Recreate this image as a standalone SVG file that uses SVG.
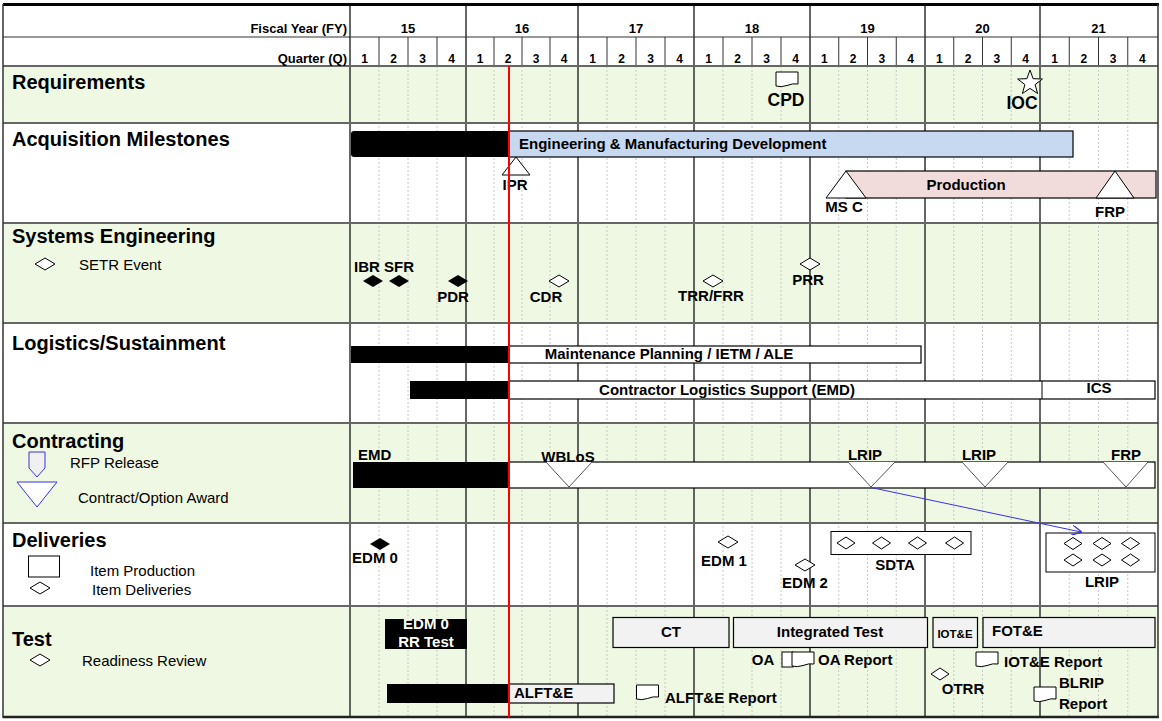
<svg xmlns="http://www.w3.org/2000/svg" xmlns:xlink="http://www.w3.org/1999/xlink" width="1162" height="721" viewBox="0 0 1162 721">
<defs>
<style>
text{font-family:"Liberation Sans",Arial,sans-serif;fill:#000}
.hd{font-size:13px;font-weight:bold}
.qn{font-size:12px;font-weight:bold;text-anchor:middle}
.sec{font-size:20px;font-weight:bold}
.leg{font-size:15px}
.ms{font-size:15px;font-weight:bold}
.big{font-size:17.5px;font-weight:bold}
.bar{font-size:15px;font-weight:bold}
.c{text-anchor:middle}
.wt{fill:#fff}
.green{fill:#EFF8E2}
.yl{stroke:#333;stroke-width:1.5}
.ql{stroke:#C8C8C8;stroke-width:1;stroke-dasharray:2 2}
.qh{stroke:#333;stroke-width:1}
.rowl{stroke:#666;stroke-width:2}
.open{fill:#fff;stroke:#000;stroke-width:1}
.fill{fill:#000}
.box{stroke:#000;stroke-width:1.2}
.tri{fill:#fff;stroke:#555;stroke-width:1}
</style>
<polygon id="dia" points="0,-6 10,0 0,6 -10,0"/>
<polygon id="dias" points="0,-6 9,0 0,6 -9,0"/>
<path id="doc" d="M0,0 H22 V12 Q17,11 11,13.5 Q5,15.5 0,14 Z"/>
<marker id="arr" viewBox="0 0 10 10" refX="9" refY="5" markerWidth="10" markerHeight="10" orient="auto" markerUnits="userSpaceOnUse"><path d="M0,0 L10,5 L0,10" fill="none" stroke="#3333EE" stroke-width="1.3"/></marker>
</defs>

<!-- backgrounds -->
<rect x="0" y="0" width="1162" height="721" fill="#fff"/>
<rect class="green" x="3" y="66" width="1155" height="57"/>
<rect class="green" x="3" y="223" width="1155" height="100"/>
<rect class="green" x="3" y="423" width="1155" height="100"/>
<rect class="green" x="3" y="606" width="1155" height="111"/>

<!-- grid -->
<g id="grid">
<g class="ql">
<line x1="379" y1="66" x2="379" y2="717"/><line x1="408" y1="66" x2="408" y2="717"/><line x1="437" y1="66" x2="437" y2="717"/>
<line x1="494" y1="66" x2="494" y2="717"/><line x1="522" y1="66" x2="522" y2="717"/><line x1="550" y1="66" x2="550" y2="717"/>
<line x1="607" y1="66" x2="607" y2="717"/><line x1="636" y1="66" x2="636" y2="717"/><line x1="665" y1="66" x2="665" y2="717"/>
<line x1="723" y1="66" x2="723" y2="717"/><line x1="752" y1="66" x2="752" y2="717"/><line x1="781" y1="66" x2="781" y2="717"/>
<line x1="838.75" y1="66" x2="838.75" y2="717"/><line x1="867.5" y1="66" x2="867.5" y2="717"/><line x1="896.25" y1="66" x2="896.25" y2="717"/>
<line x1="953.75" y1="66" x2="953.75" y2="717"/><line x1="982.5" y1="66" x2="982.5" y2="717"/><line x1="1011.25" y1="66" x2="1011.25" y2="717"/>
<line x1="1069.25" y1="66" x2="1069.25" y2="717"/><line x1="1098.5" y1="66" x2="1098.5" y2="717"/><line x1="1127.75" y1="66" x2="1127.75" y2="717"/>
</g>
<g class="qh">
<line x1="379" y1="37" x2="379" y2="66"/><line x1="408" y1="37" x2="408" y2="66"/><line x1="437" y1="37" x2="437" y2="66"/>
<line x1="494" y1="37" x2="494" y2="66"/><line x1="522" y1="37" x2="522" y2="66"/><line x1="550" y1="37" x2="550" y2="66"/>
<line x1="607" y1="37" x2="607" y2="66"/><line x1="636" y1="37" x2="636" y2="66"/><line x1="665" y1="37" x2="665" y2="66"/>
<line x1="723" y1="37" x2="723" y2="66"/><line x1="752" y1="37" x2="752" y2="66"/><line x1="781" y1="37" x2="781" y2="66"/>
<line x1="838.75" y1="37" x2="838.75" y2="66"/><line x1="867.5" y1="37" x2="867.5" y2="66"/><line x1="896.25" y1="37" x2="896.25" y2="66"/>
<line x1="953.75" y1="37" x2="953.75" y2="66"/><line x1="982.5" y1="37" x2="982.5" y2="66"/><line x1="1011.25" y1="37" x2="1011.25" y2="66"/>
<line x1="1069.25" y1="37" x2="1069.25" y2="66"/><line x1="1098.5" y1="37" x2="1098.5" y2="66"/><line x1="1127.75" y1="37" x2="1127.75" y2="66"/>
</g>
<g class="yl">
<line x1="350" y1="5" x2="350" y2="717"/><line x1="466" y1="5" x2="466" y2="717"/><line x1="578" y1="5" x2="578" y2="717"/>
<line x1="694" y1="5" x2="694" y2="717"/><line x1="810" y1="5" x2="810" y2="717"/><line x1="925" y1="5" x2="925" y2="717"/>
<line x1="1040" y1="5" x2="1040" y2="717"/>
</g>
<line x1="3" y1="37" x2="1158" y2="37" stroke="#333" stroke-width="1.2"/>
<g class="rowl">
<line x1="3" y1="66" x2="1158" y2="66"/><line x1="3" y1="123" x2="1158" y2="123"/><line x1="3" y1="223" x2="1158" y2="223"/>
<line x1="3" y1="323" x2="1158" y2="323"/><line x1="3" y1="423" x2="1158" y2="423"/><line x1="3" y1="523" x2="1158" y2="523"/>
<line x1="3" y1="606" x2="1158" y2="606"/>
</g>
<line x1="3" y1="4.5" x2="1159" y2="4.5" stroke="#000" stroke-width="3"/>
<line x1="3" y1="717" x2="1159" y2="717" stroke="#222" stroke-width="2.5"/>
<line x1="3" y1="4" x2="3" y2="718" stroke="#333" stroke-width="1.5"/>
<line x1="1158" y1="4" x2="1158" y2="718" stroke="#333" stroke-width="1.5"/>
</g>

<!-- header -->
<g id="header">
<text class="hd" x="347" y="33" text-anchor="end">Fiscal Year (FY)</text>
<text class="hd" x="347" y="63" text-anchor="end">Quarter (Q)</text>
<g class="hd c">
<text x="408" y="33">15</text><text x="522" y="33">16</text><text x="636" y="33">17</text><text x="752" y="33">18</text>
<text x="867.5" y="33">19</text><text x="982.5" y="33">20</text><text x="1098.5" y="33">21</text>
</g>
<g class="qn">
<text x="364.5" y="63">1</text><text x="393.5" y="63">2</text><text x="422.5" y="63">3</text><text x="451.5" y="63">4</text>
<text x="480" y="63">1</text><text x="508" y="63">2</text><text x="536" y="63">3</text><text x="564" y="63">4</text>
<text x="592.5" y="63">1</text><text x="621.5" y="63">2</text><text x="650.5" y="63">3</text><text x="679.5" y="63">4</text>
<text x="708.5" y="63">1</text><text x="737.5" y="63">2</text><text x="766.5" y="63">3</text><text x="795.5" y="63">4</text>
<text x="824.4" y="63">1</text><text x="853.1" y="63">2</text><text x="881.9" y="63">3</text><text x="910.6" y="63">4</text>
<text x="939.4" y="63">1</text><text x="968.1" y="63">2</text><text x="996.9" y="63">3</text><text x="1025.6" y="63">4</text>
<text x="1054.6" y="63">1</text><text x="1083.9" y="63">2</text><text x="1113.1" y="63">3</text><text x="1142.4" y="63">4</text>
</g>
</g>

<!-- Requirements -->
<g id="requirements">
<text class="sec" x="12" y="89">Requirements</text>
<g id="cpd"><use href="#doc" x="776" y="72" class="open"/><text class="big c" x="786" y="106">CPD</text></g>
<g id="ioc"><polygon class="open" points="1030,70 1033.1,78.7 1042.4,79 1035.1,84.6 1037.6,93.5 1030,88.4 1022.4,93.5 1024.9,84.6 1017.6,79 1026.9,78.7"/><text class="big c" x="1022" y="109">IOC</text></g>
</g>

<!-- Acquisition Milestones -->
<g id="acquisition">
<text class="sec" x="12" y="146">Acquisition Milestones</text>
<g id="emd-bar">
<rect x="351" y="131" width="160" height="26" rx="3" fill="#000"/>
<rect x="509" y="131" width="564" height="26" fill="#C6D9F1" class="box"/>
<text class="bar" x="519" y="149">Engineering &amp; Manufacturing Development</text>
</g>
<g id="ipr"><polygon class="open" points="502,175 516,157 530,175"/><text class="ms c" x="515" y="190">IPR</text></g>
<g id="production">
<rect x="846" y="171" width="310" height="27" fill="#F2DCDB" class="box"/>
<text class="bar c" x="966" y="190">Production</text>
</g>
<g id="msc"><polygon class="open" points="826,198 846,171 866,198"/><text class="ms c" x="844" y="212">MS C</text></g>
<g id="frp-ms"><polygon class="open" points="1096,198 1115,171 1134,198"/><text class="ms c" x="1110" y="217">FRP</text></g>
</g>

<!-- Systems Engineering -->
<g id="systems-engineering">
<text class="sec" x="12" y="243">Systems Engineering</text>
<use href="#dia" x="45" y="264" class="open"/>
<text class="leg" x="79" y="270">SETR Event</text>
<g id="ibr-sfr"><use href="#dia" x="373" y="281" class="fill"/><use href="#dia" x="399" y="281" class="fill"/><text class="ms" x="354" y="272">IBR SFR</text></g>
<g id="pdr"><use href="#dia" x="458" y="281" class="fill"/><text class="ms c" x="453" y="302">PDR</text></g>
<g id="cdr"><use href="#dia" x="559" y="281" class="open"/><text class="ms c" x="546" y="302">CDR</text></g>
<g id="trr"><use href="#dia" x="713" y="281" class="open"/><text class="ms c" x="711" y="301">TRR/FRR</text></g>
<g id="prr"><use href="#dia" x="810" y="264" class="open"/><text class="ms c" x="808" y="285">PRR</text></g>
</g>

<!-- Logistics -->
<g id="logistics">
<text class="sec" x="12" y="350">Logistics/Sustainment</text>
<g id="maint">
<rect x="351" y="346" width="158" height="17" fill="#000"/>
<rect x="509" y="346" width="412" height="17" fill="#fff" class="box"/>
<text class="bar c" x="669" y="359">Maintenance Planning / IETM / ALE</text>
</g>
<g id="cls">
<rect x="410" y="381" width="99" height="18" fill="#000"/>
<rect x="509" y="381" width="646" height="18" fill="#fff" class="box"/>
<line x1="1042" y1="381" x2="1042" y2="399" stroke="#000" stroke-width="1"/>
<text class="bar c" x="727" y="395">Contractor Logistics Support (EMD)</text>
<text class="bar c" x="1099" y="393">ICS</text>
</g>
</g>

<!-- Contracting -->
<g id="contracting">
<text class="sec" x="12" y="448">Contracting</text>
<polygon points="29,452 45,452 45,468 37,477 29,468" fill="#F0F0F0" stroke="#3333EE" stroke-width="1"/>
<text class="leg" x="70" y="468">RFP Release</text>
<polygon points="17,482 57,482 37,507" fill="#fff" stroke="#3333EE" stroke-width="1"/>
<text class="leg" x="78" y="503">Contract/Option Award</text>
<g id="contract-bar">
<rect x="353" y="462" width="156" height="26" fill="#000"/>
<rect x="509" y="462" width="646" height="26" fill="#fff" class="box"/>
<text class="ms" x="358" y="460">EMD</text>
</g>
<g id="wblos"><polyline class="tri" points="546,462 569,487 592,462"/><text class="ms c" x="568" y="462">WBLoS</text></g>
<g id="lrip1"><polyline class="tri" points="848,462 871,487 895,462"/><text class="ms c" x="865" y="460">LRIP</text></g>
<g id="lrip2"><polyline class="tri" points="962,462 985,487 1008,462"/><text class="ms c" x="979" y="460">LRIP</text></g>
<g id="frp-c"><polyline class="tri" points="1103,462 1126,487 1148,462"/><text class="ms c" x="1126" y="460">FRP</text></g>
</g>

<!-- Deliveries -->
<g id="deliveries">
<text class="sec" x="12" y="547">Deliveries</text>
<rect x="28.5" y="556" width="31" height="21" fill="#fff" stroke="#000" stroke-width="1"/>
<text class="leg" x="90" y="576">Item Production</text>
<use href="#dia" x="40" y="588" class="open"/>
<text class="leg" x="92" y="595">Item Deliveries</text>
<g id="edm0"><use href="#dia" x="380" y="544" class="fill"/><text class="ms c" x="375" y="563">EDM 0</text></g>
<g id="edm1"><use href="#dia" x="728" y="542" class="open"/><text class="ms c" x="724" y="566">EDM 1</text></g>
<g id="edm2"><use href="#dia" x="805" y="565" class="open"/><text class="ms c" x="805" y="588">EDM 2</text></g>
<g id="sdta">
<rect x="831" y="531.5" width="140" height="23" fill="#fff" stroke="#000" stroke-width="1"/>
<use href="#dias" x="846" y="543" class="open"/><use href="#dias" x="881.5" y="543" class="open"/><use href="#dias" x="917.5" y="543" class="open"/><use href="#dias" x="954.5" y="543" class="open"/>
<text class="ms c" x="895" y="570">SDTA</text>
</g>
<g id="lrip-del">
<rect x="1046" y="533" width="109" height="39" fill="#fff" stroke="#000" stroke-width="1"/>
<use href="#dias" x="1073" y="543.5" class="open"/><use href="#dias" x="1102" y="543.5" class="open"/><use href="#dias" x="1130.5" y="543.5" class="open"/>
<use href="#dias" x="1073" y="560" class="open"/><use href="#dias" x="1102" y="560" class="open"/><use href="#dias" x="1130.5" y="560" class="open"/>
<text class="ms c" x="1102" y="587">LRIP</text>
</g>
</g>

<!-- Test -->
<g id="test">
<text class="sec" x="12" y="646">Test</text>
<use href="#dia" x="40" y="660" class="open"/>
<text class="leg" x="82" y="666">Readiness Review</text>
<g id="edm0-rr">
<rect x="385" y="619" width="82" height="30" fill="#000"/>
<text class="ms c wt" x="426" y="629">EDM 0</text>
<text class="ms c wt" x="426" y="647">RR Test</text>
</g>
<g id="alfte">
<rect x="387" y="684" width="122" height="19" fill="#000"/>
<rect x="509" y="684" width="105" height="19" fill="#F2F2F2" class="box"/>
<text class="bar" x="514" y="698">ALFT&amp;E</text>
</g>
<g id="ct"><rect x="613" y="617.5" width="116" height="30" fill="#F2F2F2" class="box"/><text class="bar c" x="671" y="637">CT</text></g>
<g id="it"><rect x="733.5" y="617.5" width="194" height="30" fill="#F2F2F2" class="box"/><text class="bar c" x="830" y="637">Integrated Test</text></g>
<g id="iote"><rect x="933" y="617.5" width="44.5" height="30" fill="#F2F2F2" class="box"/><text class="c" x="955" y="638" style="font-size:11.5px;font-weight:bold">IOT&amp;E</text></g>
<g id="fote"><rect x="983" y="617.5" width="172" height="30" fill="#F2F2F2" class="box"/><text class="bar" x="992" y="636">FOT&amp;E</text></g>
<g id="oa">
<text class="ms c" x="763" y="665">OA</text>
<rect x="782" y="652" width="11" height="15" fill="#fff" stroke="#000" stroke-width="1"/>
<use href="#doc" x="792" y="652" class="open"/>
<text class="ms" x="818" y="665">OA Report</text>
</g>
<g id="alfte-report"><use href="#doc" x="636.5" y="685" class="open"/><text class="ms" x="665" y="703">ALFT&amp;E Report</text></g>
<g id="otrr"><use href="#dias" x="940" y="674" class="open"/><text class="ms c" x="963" y="694">OTRR</text></g>
<g id="iote-report"><use href="#doc" x="976" y="652" class="open"/><text class="ms" x="1004" y="667">IOT&amp;E Report</text></g>
<g id="blrip-report"><use href="#doc" x="1034" y="687" class="open"/><text class="ms" x="1059" y="688">BLRIP</text><text class="ms" x="1059" y="709">Report</text></g>
</g>

<!-- connectors -->
<g id="connectors">
<line x1="871" y1="487.5" x2="1081" y2="532" stroke="#3333EE" stroke-width="1" marker-end="url(#arr)"/>
</g>

<!-- current date line -->
<line id="today" x1="509" y1="66" x2="509" y2="717" stroke="#FF0000" stroke-width="2"/>
</svg>
